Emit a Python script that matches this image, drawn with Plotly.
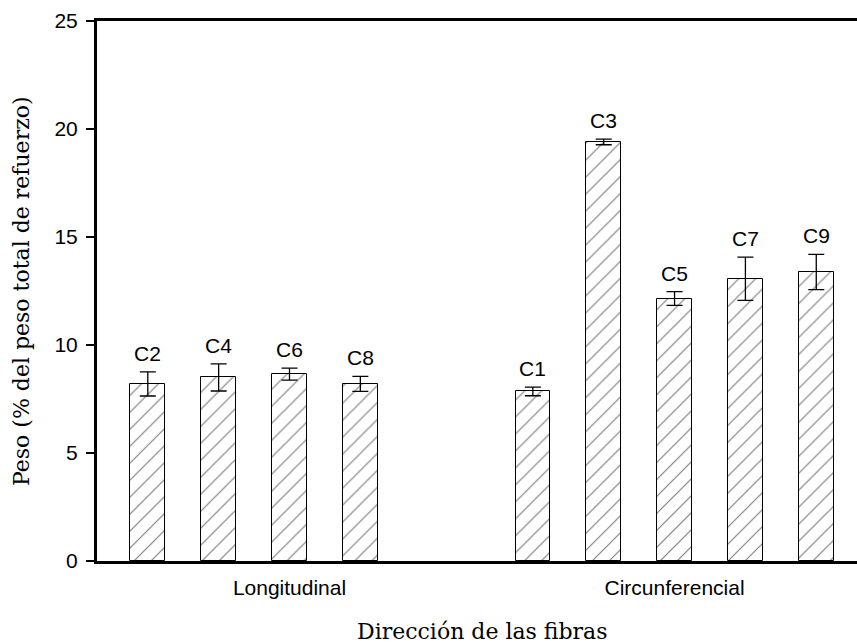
import plotly.graph_objects as go

# Reinforcement weight by fibre direction (mean and standard deviation)
groups = ["Longitudinal", "Circunferencial"]

labels_long = ["C2", "C4", "C6", "C8"]
values_long = [8.2, 8.5, 8.65, 8.2]
err_long = [0.56, 0.63, 0.28, 0.35]

labels_circ = ["C1", "C3", "C5", "C7", "C9"]
values_circ = [7.85, 19.4, 12.15, 13.07, 13.38]
err_circ = [0.2, 0.13, 0.32, 1.0, 0.82]

y_ticks = [0, 5, 10, 15, 20, 25]

# Each group has five bar slots; the second group is shifted along the axis
SLOTS = 5
GROUP_STEP = 5.435
group_centers = [(SLOTS - 1) / 2 + i * GROUP_STEP for i in range(len(groups))]

x_long = [i for i in range(len(labels_long))]
x_circ = [GROUP_STEP + i for i in range(len(labels_circ))]

labels = labels_long + labels_circ
xs = x_long + x_circ
values = values_long + values_circ
errs = err_long + err_circ

sans = "Liberation Sans, Arial, sans-serif"
serif = "DejaVu Serif, serif"

fig = go.Figure()
fig.add_trace(go.Bar(
    x=xs,
    y=values,
    width=0.49,
    marker=dict(
        color="white",
        line=dict(color="black", width=1),
        pattern=dict(shape="/", fgcolor="black", bgcolor="white", size=12, solidity=0.1),
    ),
    error_y=dict(type="data", array=errs, visible=True, color="black", thickness=1.3, width=8),
    showlegend=False,
    hoverinfo="skip",
))

annotations = []
for xv, v, e, lab in zip(xs, values, errs, labels):
    annotations.append(dict(
        x=xv, y=v + e, xref="x", yref="y", text=lab, showarrow=False,
        yanchor="bottom", yshift=5, font=dict(family=sans, size=21, color="black"),
    ))

annotations.append(dict(
    x=0, y=0.5, xref="paper", yref="paper", text="Peso (% del peso total de refuerzo)",
    textangle=-90, showarrow=False, xanchor="center", yanchor="middle", xshift=-76,
    font=dict(family=serif, size=22, color="black"),
))
annotations.append(dict(
    x=0.5, y=0, xref="paper", yref="paper", text="Dirección de las fibras",
    showarrow=False, xanchor="center", yanchor="middle", xshift=5, yshift=-70,
    font=dict(family=serif, size=22, color="black"),
))

fig.update_layout(
    width=857, height=643,
    margin=dict(l=97, r=0, t=21, b=82),
    paper_bgcolor="white", plot_bgcolor="white",
    annotations=annotations,
    bargap=0,
)
fig.update_xaxes(
    range=[-0.717, 10.01],
    tickvals=group_centers, ticktext=groups,
    ticks="", showgrid=False, zeroline=False,
    showline=True, linecolor="black", linewidth=3, mirror=True,
    tickfont=dict(family=sans, size=21, color="black"),
    ticklabelstandoff=6,
)
fig.update_yaxes(
    range=[0, 25], tickvals=y_ticks,
    ticks="outside", ticklen=8, tickwidth=1.5, tickcolor="black",
    showgrid=False, zeroline=False,
    showline=True, linecolor="black", linewidth=3,
    tickfont=dict(family=sans, size=21, color="black"),
    ticklabelstandoff=4,
)

fig.write_html("out.html")
